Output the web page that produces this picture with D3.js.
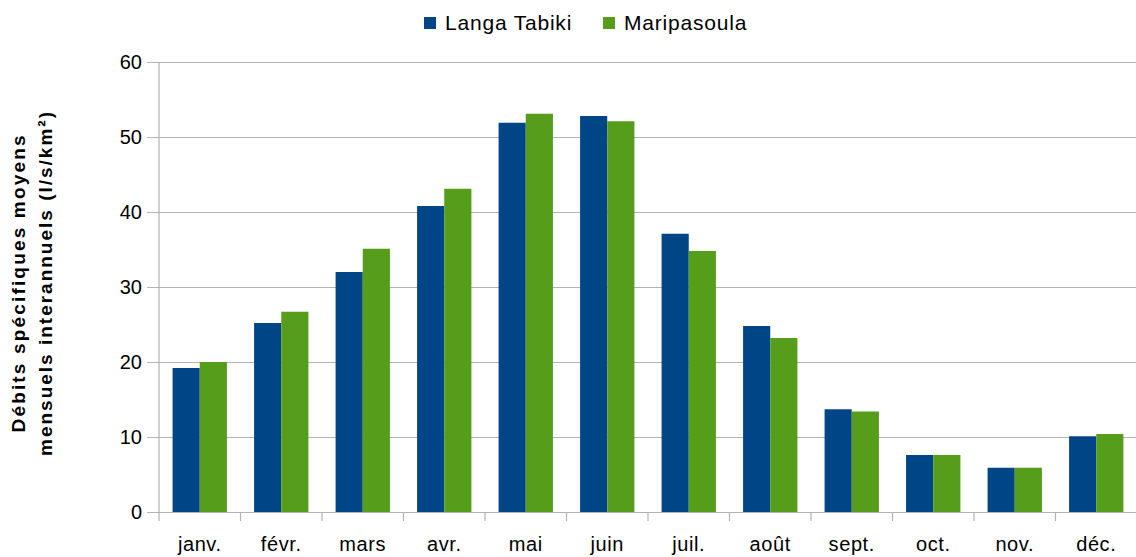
<!DOCTYPE html>
<html>
<head>
<meta charset="utf-8">
<script src="https://cdn.jsdelivr.net/npm/d3@7"></script>
<style>
  body { margin: 0; background: #fff; }
  text { font-family: "Liberation Sans", Arial, sans-serif; fill: #000; }
</style>
</head>
<body>
<div id="my_graphic"></div>
<script>
// data
const months = ["janv.", "févr.", "mars", "avr.", "mai", "juin", "juil.", "août", "sept.", "oct.", "nov.", "déc."];
const langaTabiki = [19.2, 25.2, 32.0, 40.8, 51.9, 52.8, 37.1, 24.8, 13.7, 7.6, 5.9, 10.1];
const maripasoula = [20.0, 26.7, 35.1, 43.1, 53.1, 52.1, 34.8, 23.2, 13.4, 7.6, 5.9, 10.4];
const seriesNames = ["Langa Tabiki", "Maripasoula"];
const yTicks = [0, 10, 20, 30, 40, 50, 60];

const colors = ["#004586", "#579d1c"];

const margin = {top: 62, right: -1, bottom: 45, left: 159},
    W = 1136, H = 557,
    width = W - margin.left - margin.right,
    height = H - margin.top - margin.bottom;

const svg = d3.select("#my_graphic")
    .append("svg")
    .attr("width", W)
    .attr("height", H);

const g = svg.append("g")
    .attr("transform", `translate(${margin.left},${margin.top})`);

const data = months.map((m, i) => ({month: m, values: [langaTabiki[i], maripasoula[i]]}));

// X scale
const x = d3.scaleBand()
    .domain(months)
    .range([0, width])
    .padding(0);

const y = d3.scaleLinear()
    .domain([0, 60])
    .range([height, 0]);

// horizontal grid + y ticks
g.append("g")
    .call(d3.axisLeft(y).tickValues(yTicks).tickSize(-(width + 12)).tickPadding(5))
    .attr("transform", "translate(-12,0)")
    .call(a => a.select(".domain").remove())
    .call(a => a.selectAll(".tick line").attr("stroke", "#b3b3b3").attr("stroke-width", 1.2))
    .call(a => a.selectAll(".tick text")
        .style("font-size", "20px")
        .style("font-family", "Liberation Sans, Arial, sans-serif")
        .attr("fill", "#000"));

// y axis line
g.append("line")
    .attr("x1", 0).attr("x2", 0)
    .attr("y1", 0).attr("y2", height)
    .attr("stroke", "#b3b3b3").attr("stroke-width", 1.2);

// bars
const bw = x.bandwidth() / 3;
const groups = g.append("g")
    .selectAll("g")
    .data(data)
    .join("g")
    .attr("transform", d => `translate(${x(d.month) + x.bandwidth() / 6},0)`);

groups.selectAll("rect")
    .data(d => d.values)
    .join("rect")
    .attr("x", (d, i) => i * bw)
    .attr("y", d => y(d))
    .attr("width", bw)
    .attr("height", d => height - y(d))
    .attr("fill", (d, i) => colors[i]);

// x axis
g.append("g")
    .attr("transform", `translate(0,${height})`)
    .call(d3.axisBottom(x).tickSize(0).tickPadding(25).tickSizeOuter(0))
    .call(a => a.select(".domain").attr("stroke", "#b3b3b3").attr("stroke-width", 1.2))
    .call(a => a.selectAll(".tick text")
        .style("font-size", "20px")
        .style("letter-spacing", "0.6px")
        .style("font-family", "Liberation Sans, Arial, sans-serif")
        .attr("fill", "#000"));

// category boundary ticks
g.append("g")
    .selectAll("line")
    .data(months.concat(["end"]))
    .join("line")
    .attr("x1", (d, i) => i < months.length ? x(d) : width)
    .attr("x2", (d, i) => i < months.length ? x(d) : width)
    .attr("y1", height)
    .attr("y2", height + 9)
    .attr("stroke", "#b3b3b3")
    .attr("stroke-width", 1.2);

// axis title
const title = svg.append("text")
    .attr("transform", "translate(25,284) rotate(-90)")
    .attr("text-anchor", "middle")
    .style("font-size", "19px")
    .style("font-weight", "bold");
title.append("tspan").attr("x", 0).attr("dy", 0)
    .attr("textLength", 297).attr("lengthAdjust", "spacing")
    .text("Débits spécifiques moyens");
title.append("tspan").attr("x", 0).attr("dy", 27)
    .attr("textLength", 344).attr("lengthAdjust", "spacing")
    .text("mensuels interannuels (l/s/km²)");

// legend
const legendX = [424, 603];
const legend = svg.selectAll(".legend")
    .data(seriesNames)
    .join("g")
    .attr("class", "legend")
    .attr("transform", (d, i) => `translate(${legendX[i]},17)`);

legend.append("rect")
    .attr("width", 12)
    .attr("height", 12)
    .attr("fill", (d, i) => colors[i]);

legend.append("text")
    .attr("x", 21)
    .attr("y", 13)
    .style("font-size", "21px")
    .style("letter-spacing", "0.8px")
    .text(d => d);
</script>
</body>
</html>
